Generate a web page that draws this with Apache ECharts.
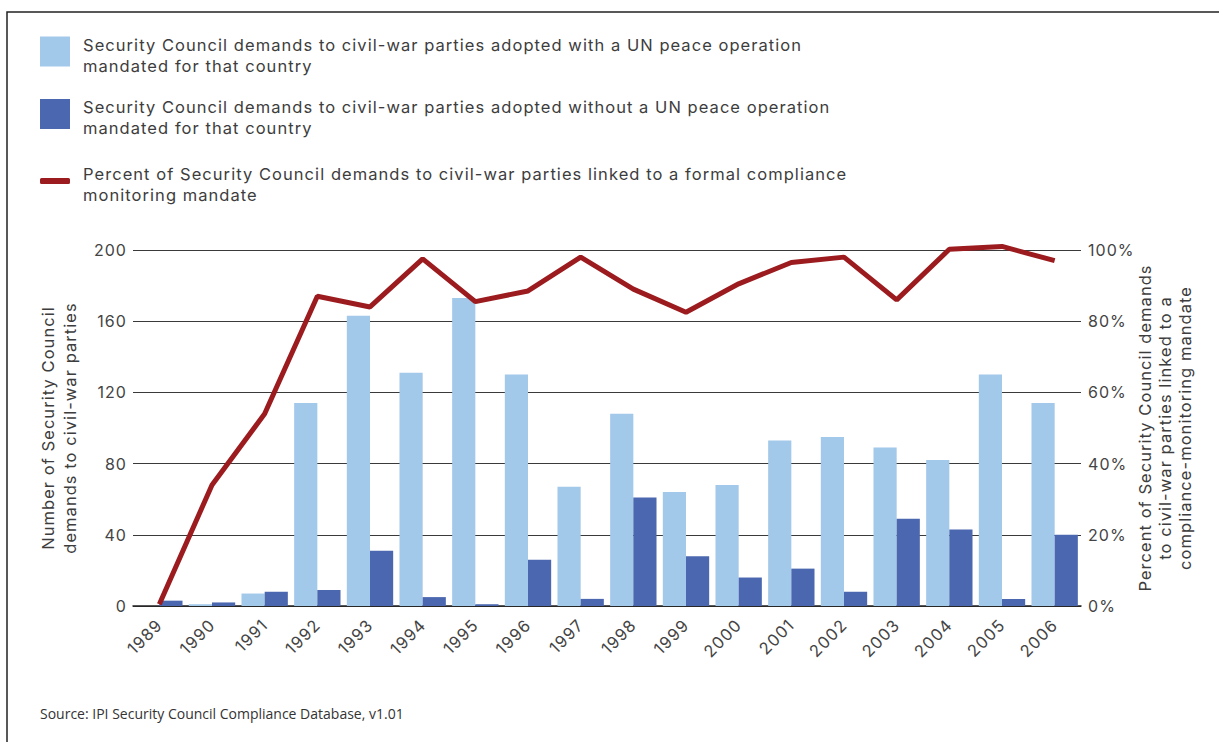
<!DOCTYPE html>
<html>
<head>
<meta charset="utf-8">
<script src="https://cdn.jsdelivr.net/npm/echarts@6/dist/echarts.min.js"></script>
<style>
html,body{margin:0;padding:0;background:#fff;}
#c{width:1219px;height:742px;}
#c text[style*="Inter"]{letter-spacing:1.05px;}
</style>
</head>
<body>
<div id="c"></div>
<script>
const years = ['1989','1990','1991','1992','1993','1994','1995','1996','1997','1998','1999','2000','2001','2002','2003','2004','2005','2006'];
const withPeaceOp = [0,1,7,114,163,131,173,130,67,108,64,68,93,95,89,82,130,114];
const withoutPeaceOp = [3,2,8,9,31,5,1,26,4,61,28,16,21,8,49,43,4,40];
const pctMonitoring = [0.5,34,54,87,84,97.5,85.5,88.5,98,89,82.5,90.5,96.5,98,86,100.2,101,97];
const leftTicks = {min:0, max:200, interval:40};
const rightTicks = {min:0, max:100, interval:20};

const nameA = 'Security Council demands to civil-war parties adopted with a UN peace operation mandated for that country';
const nameB = 'Security Council demands to civil-war parties adopted without a UN peace operation mandated for that country';
const nameC = 'Percent of Security Council demands to civil-war parties linked to a formal compliance monitoring mandate';
const legendText = {};
legendText[nameA] = 'Security Council demands to civil-war parties adopted with a UN peace operation\nmandated for that country';
legendText[nameB] = 'Security Council demands to civil-war parties adopted without a UN peace operation\nmandated for that country';
legendText[nameC] = 'Percent of Security Council demands to civil-war parties linked to a formal compliance\nmonitoring mandate';

const FONT = 'Inter';
const TXT = '#3d3d3d';
const chart = echarts.init(document.getElementById('c'), null, {renderer:'svg'});
const legendBase = {
  orient:'vertical', left:40, padding:0, itemWidth:30, itemHeight:30, icon:'rect',
  formatter: n => '{s| }\n' + legendText[n],
  textStyle:{fontFamily:FONT, fontSize:16.5, color:TXT, lineHeight:21, padding:[0,0,0,8],
    rich:{s:{lineHeight:7, fontSize:1}}},
  selectedMode:false
};
chart.setOption({
  animation:false,
  textStyle:{fontFamily:FONT},
  title:{text:'Source: IPI Security Council Compliance Database, v1.01', left:35, top:701,
    textStyle:{fontFamily:'Open Sans', fontSize:14, fontWeight:'normal', color:'#333'}},
  graphic:[{type:'polyline', shape:{points:[[7,742],[7,12],[1219,12]]}, style:{stroke:'#222', lineWidth:1.5, fill:null}}],
  legend:[
    Object.assign({}, legendBase, {top:27, data:[nameA]}),
    Object.assign({}, legendBase, {top:89.5, data:[nameB]}),
    Object.assign({}, legendBase, {top:157, itemHeight:6, icon:'roundRect', data:[nameC],
      textStyle:Object.assign({}, legendBase.textStyle, {rich:{s:{lineHeight:6, fontSize:1}}})})
  ],
  grid:{left:133, right:138, top:250, bottom:136},
  xAxis:[
    {type:'category', data:years, position:'bottom',
     axisLine:{lineStyle:{color:'#222', width:1.5}},
     axisTick:{inside:false, length:6, lineStyle:{color:'#555', width:1.5}},
     axisLabel:{rotate:45, fontSize:16.5, color:'#444', margin:16, fontFamily:FONT}},
    {type:'category', data:years, position:'bottom',
     axisLine:{show:false},
     axisTick:{inside:true, length:6, lineStyle:{color:'#555', width:1.5}},
     axisLabel:{show:false}}
  ],
  yAxis:[
    {type:'value', min:leftTicks.min, max:leftTicks.max, interval:leftTicks.interval,
     name:'Number of Security Council\ndemands to civil-war parties', nameLocation:'middle', nameGap:52,
     nameTextStyle:{fontSize:16.5, color:TXT, lineHeight:22, fontFamily:FONT},
     axisLine:{show:false}, axisTick:{show:false},
     axisLabel:{fontSize:16, color:'#444', margin:6, fontFamily:FONT},
     splitLine:{lineStyle:{color:'#3a3a3a', width:1}}},
    {type:'value', min:rightTicks.min, max:rightTicks.max, interval:rightTicks.interval, position:'right',
     name:'Percent of Security Council demands\nto civil-war parties linked to a\ncompliance-monitoring mandate', nameLocation:'middle', nameGap:54,
     nameMoveOverlap:false,
     nameTextStyle:{fontSize:16.5, color:TXT, lineHeight:20, fontFamily:FONT},
     axisLine:{show:false}, axisTick:{show:false},
     axisLabel:{fontSize:16, color:'#444', margin:7, formatter:'{value}%', fontFamily:FONT},
     splitLine:{show:false}}
  ],
  series:[
    {name:nameA, type:'bar', data:withPeaceOp, barGap:'0%', barCategoryGap:'12%', itemStyle:{color:'#a2c8ea'}},
    {name:nameB, type:'bar', data:withoutPeaceOp, barGap:'0%', barCategoryGap:'12%', itemStyle:{color:'#4a67b0'}},
    {name:nameC, type:'line', yAxisIndex:1, data:pctMonitoring, symbol:'none', clip:false,
     lineStyle:{color:'#9b1b1e', width:5}, itemStyle:{color:'#9b1b1e'}, z:5}
  ]
});
</script>
</body>
</html>
